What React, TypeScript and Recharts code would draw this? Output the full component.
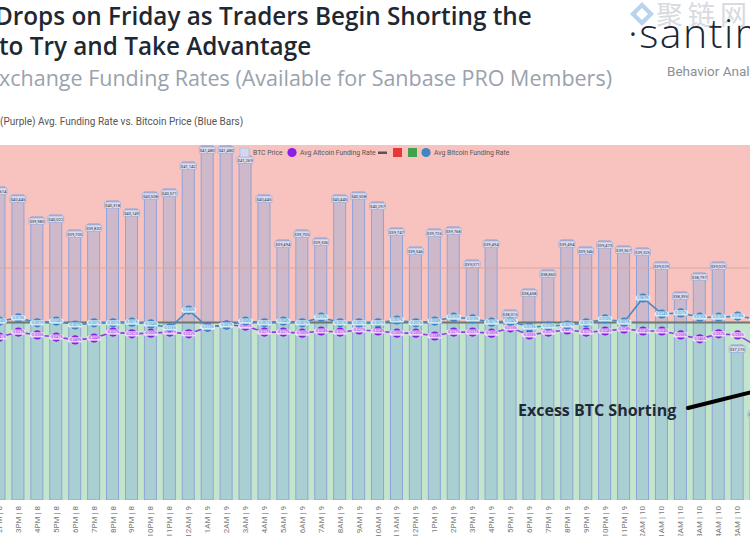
import {
  Bar,
  ComposedChart,
  LabelList,
  Line,
  ReferenceArea,
  ReferenceLine,
  XAxis,
  YAxis,
} from "recharts";

// hourly buckets, 8th-10th
const hours = [
  "2PM | 8", "3PM | 8", "4PM | 8", "5PM | 8", "6PM | 8", "7PM | 8", "8PM | 8", "9PM | 8", "10PM | 8", "11PM | 8",
  "12AM | 9", "1AM | 9", "2AM | 9", "3AM | 9", "4AM | 9", "5AM | 9", "6AM | 9", "7AM | 9", "8AM | 9", "9AM | 9",
  "10AM | 9", "11AM | 9", "12PM | 9", "1PM | 9", "2PM | 9", "3PM | 9", "4PM | 9", "5PM | 9", "6PM | 9", "7PM | 9",
  "8PM | 9", "9PM | 9", "10PM | 9", "11PM | 9",
  "12AM | 10", "1AM | 10", "2AM | 10", "3AM | 10", "4AM | 10", "5AM | 10", "6AM | 10",
];

const btcPrice = [
  40614, 40445, 39980, 40022, 39705, 39832, 40318, 40149, 40508, 40571,
  41142, 41480, 41480, 41269, 40445, 39494, 39705, 39536, 40445, 40508,
  40297, 39747, 39346, 39726, 39768, 39071, 39494, 38015, 38458, 38860,
  39494, 39346, 39473, 39367, 39325, 39029, 38395, 38797, 39029, 37275, 35902,
];

// funding rates, %
const altcoinFunding = [
  -0.041, -0.027, -0.035, -0.041, -0.049, -0.044, -0.027, -0.032, -0.03, -0.027,
  -0.032, -0.013, -0.007, -0.01, -0.027, -0.027, -0.03, -0.024, -0.027, -0.021,
  -0.024, -0.03, -0.03, -0.038, -0.027, -0.027, -0.03, -0.015, -0.035, -0.027,
  -0.021, -0.027, -0.024, -0.018, -0.024, -0.024, -0.035, -0.046, -0.032, -0.035, -0.066,
];

const bitcoinFunding = [
  0.004, 0.013, -0.001, 0.004, -0.007, -0.001, -0.001, 0.001, -0.004, -0.015,
  0.035, -0.013, -0.007, 0.004, -0.001, 0.004, -0.001, 0.015, -0.001, -0.001,
  -0.001, 0.007, -0.001, 0.004, 0.015, 0.01, 0.001, 0.004, -0.013, -0.01,
  -0.007, -0.001, 0.01, 0.001, 0.069, 0.024, 0.027, 0.015, 0.015, 0.018, 0.01,
];

const data = hours.map((hour, i) => ({
  hour,
  price: btcPrice[i],
  alt: altcoinFunding[i],
  btc: bitcoinFunding[i],
}));

const SANS = "'Open Sans', 'Noto Sans', sans-serif";
const SMALL = "Roboto, 'Liberation Sans', sans-serif";

function HourTick({ x, y, payload }: any) {
  return (
    <text
      transform={`translate(${x},${y - 2}) rotate(-90)`}
      textAnchor="end"
      dominantBaseline="central"
      fontSize={8}
      fontFamily={SMALL}
      fill="#777"
    >
      {payload.value}
    </text>
  );
}

function PriceTag({ x, y, width, value }: any) {
  const cx = x + width / 2;
  return (
    <g>
      <rect x={cx - 8} y={y + 1} width={16} height={6.5} rx={1} fill="#dcdcef" stroke="#8fa3d8" strokeWidth={0.6} />
      <text x={cx} y={y + 4.6} textAnchor="middle" dominantBaseline="central" fontSize={4.2} fontFamily={SMALL} fill="#333">
        {"$" + Number(value).toLocaleString("en-US")}
      </text>
    </g>
  );
}

function makeDot(color: string, tag: string, ink: string) {
  return ({ cx, cy, value, index }: any) => (
    <g key={index}>
      <circle cx={cx} cy={cy} r={4.6} fill={color} />
      <rect x={cx - 7.5} y={cy - 2.6} width={15} height={5.2} rx={2.6} fill={tag} />
      <text x={cx} y={cy + 0.2} textAnchor="middle" dominantBaseline="central" fontSize={3.6} fontFamily={SMALL} fill={ink}>
        {value.toFixed(3) + "%"}
      </text>
    </g>
  );
}

const altDot = makeDot("#8c1fe6", "rgba(250,225,250,0.9)", "#8c1fe6");
const btcDot = makeDot("#3f86c6", "rgba(220,242,250,0.92)", "#3f86c6");

function Legend() {
  const txt = { fontSize: 6.8, fontFamily: SMALL, fill: "#555" };
  return (
    <svg width={750} height={20} style={{ position: "absolute", left: 0, top: 143 }}>
      <rect x={240} y={5} width={9} height={9} fill="#d6d6ec" stroke="#b8c0e0" />
      <text x={253} y={12} {...txt}>BTC Price</text>
      <circle cx={292} cy={9.5} r={4.6} fill="#8c1fe6" />
      <text x={300} y={12} {...txt}>Avg Altcoin Funding Rate</text>
      <rect x={378} y={8.5} width={9} height={2.5} fill="#555" />
      <rect x={393} y={5} width={9} height={9} fill="#e53935" />
      <rect x={408} y={5} width={9} height={9} fill="#3fa34d" />
      <circle cx={426} cy={9.5} r={4.6} fill="#3f86c6" />
      <text x={434} y={12} {...txt}>Avg Bitcoin Funding Rate</text>
    </svg>
  );
}

function Header() {
  return (
    <svg width={750} height={140} style={{ position: "absolute", left: 0, top: 0 }}>
      <text x={-5} y={25} fontSize={24.3} fontWeight={600} fontFamily={SANS} fill="#1e2833">
        Drops on Friday as Traders Begin Shorting the
      </text>
      <text x={-1} y={55} fontSize={24.3} fontWeight={600} fontFamily={SANS} fill="#1e2833">
        to Try and Take Advantage
      </text>
      <text x={-13} y={86} fontSize={21.5} fontWeight={400} fontFamily={SANS} fill="#9aa2ac">
        Exchange Funding Rates (Available for Sanbase PRO Members)
      </text>
      <text x={0} y={125} fontSize={10} fontFamily={SMALL} fill="#555">
        (Purple) Avg. Funding Rate vs. Bitcoin Price (Blue Bars)
      </text>
      <g opacity={0.55}>
        <path d="M642 2 L654 14 L642 26 L630 14 Z" fill="#7fb0dc" />
        <path d="M642 8 L648 14 L642 20 L636 14 Z" fill="#ffffff" />
        <text x={656} y={25} fontSize={27} letterSpacing={5} fontFamily="'Noto Sans CJK SC', sans-serif" fill="#b7bcc6">
          聚链网
        </text>
      </g>
      <text x={628} y={48} fontSize={41} fontWeight={300} letterSpacing={1.5} fontFamily={SANS} fill="#1b2736">
        ·santiment
      </text>
      <text x={667} y={76} fontSize={13.5} fontFamily={SMALL} fill="#8a8f96">
        Behavior Analytics
      </text>
    </svg>
  );
}

export default function App() {
  return (
    <div style={{ position: "fixed", left: 0, top: 0, width: 750, height: 536, overflow: "hidden", background: "#fff" }}>
      <Header />
      <div style={{ position: "absolute", left: -10, top: 145 }}>
        <ComposedChart
          width={776}
          height={391}
          data={data}
          margin={{ top: 0, right: 0, bottom: 0, left: 0 }}
        >
          <XAxis dataKey="hour" interval={0} tick={<HourTick />} tickLine={false} axisLine={false} height={36} />
          <YAxis yAxisId="price" hide domain={[34000, 41500]} allowDataOverflow />
          <YAxis yAxisId="rate" hide orientation="right" domain={[-0.5, 0.5]} allowDataOverflow />
          <ReferenceArea yAxisId="rate" y1={0} y2={0.5} fill="#f8c3bf" fillOpacity={1} stroke="none" />
          <ReferenceArea yAxisId="rate" y1={-0.5} y2={0} fill="#c2e5cc" fillOpacity={1} stroke="none" />
          <ReferenceLine yAxisId="price" y={38900} stroke="#d4a8a4" strokeWidth={1} />
          <Bar
            yAxisId="price"
            dataKey="price"
            barSize={12}
            fill="rgba(120,165,225,0.33)"
            stroke="#8fa3d8"
            strokeWidth={1}
            isAnimationActive={false}
          >
            <LabelList dataKey="price" content={<PriceTag />} />
          </Bar>
          <ReferenceLine yAxisId="rate" y={0} stroke="#6f7772" strokeWidth={2} />
          <Line
            yAxisId="rate"
            dataKey="alt"
            type="linear"
            stroke="#8c3fe0"
            strokeWidth={1.6}
            dot={altDot}
            activeDot={false}
            isAnimationActive={false}
          />
          <Line
            yAxisId="rate"
            dataKey="btc"
            type="linear"
            stroke="#4b87c2"
            strokeWidth={1.6}
            dot={btcDot}
            activeDot={false}
            isAnimationActive={false}
          />
        </ComposedChart>
      </div>
      <Legend />
      <svg width={750} height={536} style={{ position: "absolute", left: 0, top: 0, pointerEvents: "none" }}>
        <text x={518} y={416} fontSize={16} fontWeight={700} fontFamily={SANS} fill="#1e2a38">
          Excess BTC Shorting
        </text>
        <line x1={688} y1={408} x2={756} y2={391} stroke="#000" strokeWidth={4} strokeLinecap="round" />
      </svg>
    </div>
  );
}
